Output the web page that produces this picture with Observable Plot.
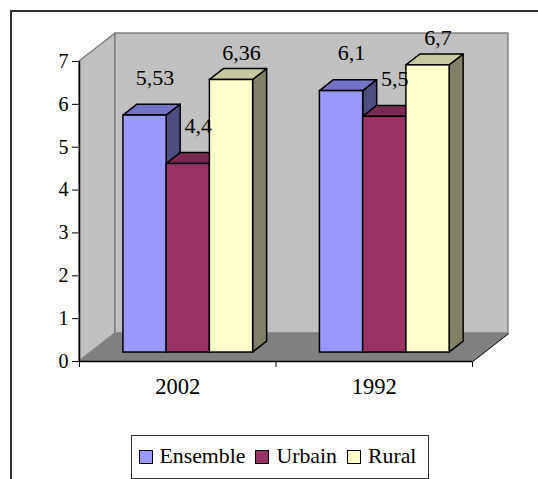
<!DOCTYPE html>
<html><head><meta charset="utf-8">
<script src="https://cdn.jsdelivr.net/npm/d3@7"></script>
<script src="https://cdn.jsdelivr.net/npm/@observablehq/plot@0.6"></script>
<style>
html,body{margin:0;padding:0;background:#fff;overflow:hidden;width:538px;height:479px;}
#wrap{position:relative;width:538px;height:479px;overflow:hidden;}
#frame{position:absolute;left:10px;top:10px;width:700px;height:700px;border:2px solid #333;pointer-events:none;}
#chart{position:absolute;left:0;top:0;}
#legend{position:absolute;left:131px;top:435px;width:298px;height:44px;box-sizing:border-box;border:1.5px solid #333;display:flex;align-items:center;padding-left:6.5px;font-family:"Liberation Serif","DejaVu Serif",serif;font-size:21.8px;background:#fff;}
.item{display:flex;align-items:center;margin-right:10px;}
.sw{width:14px;height:14px;box-sizing:border-box;border:1.5px solid #000;margin-right:7px;}
.lbl{position:relative;top:-1px;}
</style></head>
<body><div id="wrap"><div id="chart"></div><div id="frame"></div><div id="legend"></div></div>
<script>
// ---- data ----
const categories = ["2002", "1992"];
const seriesNames = ["Ensemble", "Urbain", "Rural"];
const ensemble = [5.53, 6.1];
const urbain = [4.4, 5.5];
const rural = [6.36, 6.7];
const yTicks = [0, 1, 2, 3, 4, 5, 6, 7];
const frontColors = ["#9999ff", "#993366", "#ffffcc"];
const topColors = ["#7373c8", "#7a2952", "#c8c8a2"];
const sideColors = ["#4d4d80", "#4d1a33", "#808066"];

// ---- 3D geometry (in data units) ----
const GROUP_START = 0.165, BAR_W = 0.22;
const DEPTH_X = 0.183, DEPTH_Y = 0.653;
const T_FRONT = 0.32, T_BACK = 0.71;
const n = categories.length;
const yMax = yTicks[yTicks.length - 1];

const seriesValues = [ensemble, urbain, rural];
const bars = [];
categories.forEach((c, i) => {
  seriesValues.forEach((vals, j) => {
    const x1 = i + GROUP_START + j * BAR_W;
    bars.push({id: c + "-" + j, cat: c, i, j, v: vals[i], x1, x2: x1 + BAR_W});
  });
});

const sidePts = bars.flatMap(b => [T_FRONT, T_BACK].map(t => ({
  id: b.id, fill: sideColors[b.j],
  x: b.x2 + t * DEPTH_X, y1: t * DEPTH_Y, y2: b.v + t * DEPTH_Y
})));
const topPts = bars.flatMap(b => [T_FRONT, T_BACK].map(t => ({
  id: b.id, fill: topColors[b.j],
  y: b.v + t * DEPTH_Y, x1: b.x1 + t * DEPTH_X, x2: b.x2 + t * DEPTH_X
})));

const leftWall = [0, 1].map(t => ({x: t * DEPTH_X, y1: t * DEPTH_Y, y2: yMax + t * DEPTH_Y}));
const floor = [0, 1].map(t => ({y: t * DEPTH_Y, x1: t * DEPTH_X, x2: n + t * DEPTH_X}));

const fmt = v => String(v).replace(".", ",");
const cx = d => (d.x1 + d.x2) / 2 + T_FRONT * DEPTH_X;
const cy = d => d.v + T_FRONT * DEPTH_Y;

const chart = Plot.plot({
  width: 538, height: 479,
  marginLeft: 79, marginRight: 66, marginTop: 61, marginBottom: 118,
  style: {fontFamily: '"Liberation Serif", "DejaVu Serif", serif', fontSize: "20px", background: "transparent", color: "black"},
  x: {type: "linear", domain: [0, n], ticks: d3.range(n + 1), tickFormat: () => "", tickSize: 6, label: null},
  y: {domain: [0, yMax], ticks: yTicks, tickFormat: d => String(d), tickSize: 7, tickPadding: 4, label: null},
  color: {type: "identity"},
  marks: [
    Plot.areaY(leftWall, {x: "x", y1: "y1", y2: "y2", fill: "#c0c0c0", stroke: "#808080", strokeWidth: 1.5}),
    Plot.rect([0], {x1: DEPTH_X, x2: n + DEPTH_X, y1: DEPTH_Y, y2: yMax + DEPTH_Y, fill: "#c0c0c0", stroke: "#808080", strokeWidth: 1.5}),
    Plot.areaX(floor, {y: "y", x1: "x1", x2: "x2", fill: "#808080"}),
    Plot.link([0], {x1: n, y1: 0, x2: n + DEPTH_X, y2: DEPTH_Y, stroke: "#222", strokeWidth: 1.2}),
    Plot.ruleY([0], {stroke: "black", strokeWidth: 1.5}),
    Plot.ruleX([0], {stroke: "black", strokeWidth: 1.5}),
    Plot.areaY(sidePts, {x: "x", y1: "y1", y2: "y2", z: "id", fill: "fill", stroke: "black", strokeWidth: 1.5}),
    Plot.areaX(topPts, {y: "y", x1: "x1", x2: "x2", z: "id", fill: "fill", stroke: "black", strokeWidth: 1.5}),
    Plot.rect(bars, {x1: d => d.x1 + T_FRONT * DEPTH_X, x2: d => d.x2 + T_FRONT * DEPTH_X, y1: T_FRONT * DEPTH_Y, y2: cy, fill: d => frontColors[d.j], stroke: "black", strokeWidth: 1.5}),
    Plot.text(bars.filter(d => d.j < 2), {x: cx, y: cy, text: d => fmt(d.v), dx: 10, dy: -38, fill: "black", fontSize: 22}),
    Plot.text(bars.filter(d => d.j === 2), {x: cx, y: cy, text: d => fmt(d.v), dx: 10, dy: -27, fill: "black", fontSize: 22}),
    Plot.text(categories, {x: (d, i) => i + 0.5, y: 0, dy: 25, text: d => d, fill: "black", fontSize: 22.5})
  ]
});
document.getElementById("chart").appendChild(chart);

const legend = document.getElementById("legend");
seriesNames.forEach((s, j) => {
  const item = document.createElement("div");
  item.className = "item";
  const sw = document.createElement("div");
  sw.className = "sw";
  sw.style.background = frontColors[j];
  const lb = document.createElement("span");
  lb.className = "lbl";
  lb.textContent = s;
  item.appendChild(sw); item.appendChild(lb);
  legend.appendChild(item);
});
</script>
</body></html>
